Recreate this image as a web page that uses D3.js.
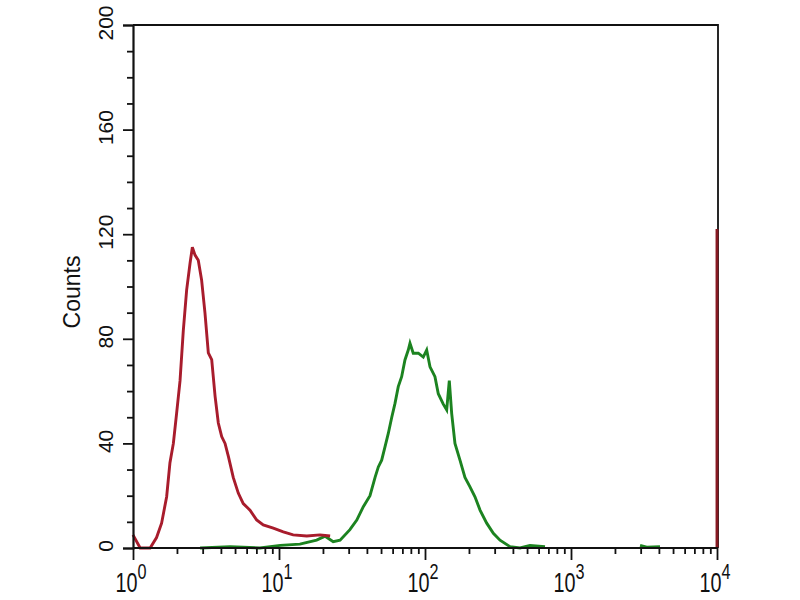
<!DOCTYPE html>
<html>
<head>
<meta charset="utf-8">
<script src="https://cdn.jsdelivr.net/npm/d3@7"></script>
<style>
  html, body { margin: 0; padding: 0; background: #ffffff; }
  svg { display: block; }
  text { font-family: "Liberation Sans", Arial, sans-serif; fill: #111; }
</style>
</head>
<body>
<svg id="chart" width="800" height="600"></svg>
<script>
// ---- data (fluorescence intensity, counts) ----
const redIntensity = [1.00, 1.12, 1.31, 1.45, 1.57, 1.70, 1.79, 1.89, 1.99, 2.10, 2.21, 2.33, 2.46, 2.55, 2.66, 2.80, 2.95, 3.11, 3.28, 3.46, 3.65, 3.84, 4.05, 4.27, 4.50, 4.86, 5.26, 5.69, 6.33, 7.03, 7.80, 9.14, 10.7, 12.5, 15.5, 19.1, 22.4];
const redCounts    = [5, 0, 0, 4, 9.5, 19.6, 32.5, 40, 51.6, 64, 83, 98.6, 109, 115, 112, 110, 102.5, 90, 74.6, 72, 58, 47.8, 42.6, 40, 35, 27, 21, 17, 14.5, 10.7, 8.8, 7.6, 6.2, 5, 4.6, 5, 4.6];
const redEdgeIntensity = [10000, 10000];
const redEdgeCounts    = [0, 122];

const greenIntensity = [2.88, 4.62, 7.41, 10.2, 13.9, 18.1, 20.7, 23.5, 26.2, 30.6, 34.1, 37.8, 42.0, 45.5, 47.9, 50.5, 53.2, 56.1, 59.2, 62.3, 65.6, 69.2, 72.9, 76.8, 78.9, 83.1, 90.0, 97.3, 102.7, 108.2, 117.0, 123.3, 133.4, 140.8, 146.7, 152.3, 160.4, 173.6, 187.8, 203.3, 219.9, 238.2, 264.6, 293.8, 326.4, 382.3, 447.7, 523.6, 663.7];
const greenCounts    = [0, 0.5, 0, 1, 1.5, 3, 4.5, 2.4, 3, 7, 10.7, 15.8, 20, 27, 31, 33.6, 38.7, 43.9, 50, 55.3, 61.7, 65.5, 71.9, 75.7, 78.3, 74.5, 74.5, 73, 75.7, 69.3, 65.5, 59, 55, 52.8, 64, 51.5, 40, 33.6, 27, 23.4, 19.6, 14.5, 9.5, 5.6, 3, 0.5, 0, 1, 0.5];
const greenTailIntensity = [2972, 3300, 4070];
const greenTailCounts    = [1, 0.3, 0.5];

const xMajorTicks = [1, 10, 100, 1000, 10000];
const xTickExponents = ["0", "1", "2", "3", "4"];
const yMajorTicks = [0, 40, 80, 120, 160, 200];
const yMinorTicks = [10, 20, 30, 50, 60, 70, 90, 100, 110, 130, 140, 150, 170, 180, 190];
const yTitle = "Counts";

// ---- layout ----
const mLeft = 133, mRight = 717, mTop = 25, mBottom = 548;
const svg = d3.select("#chart");

const x = d3.scaleLog().domain([1, 10000]).range([mLeft, mRight]);
const y = d3.scaleLinear().domain([0, 200]).range([mBottom, mTop]);

const xMinorTicks = [];
for (let e = 0; e < 4; e++) for (let m = 2; m <= 9; m++) xMinorTicks.push(m * Math.pow(10, e));

// frame (top and right)
svg.append("path")
  .attr("d", `M${mLeft},${mTop}H${mRight + 1}V${mBottom}`)
  .attr("fill", "none").attr("stroke", "#111").attr("stroke-width", 1.8);

// series
const line = d3.line().x(d => x(d[0])).y(d => y(d[1]));
function draw(xs, ys, color) {
  svg.append("path")
    .datum(xs.map((v, i) => [v, ys[i]]))
    .attr("d", line)
    .attr("fill", "none")
    .attr("stroke", color)
    .attr("stroke-width", 2.9)
    .attr("stroke-linejoin", "miter");
}
draw(greenIntensity, greenCounts, "#1c8320");
draw(greenTailIntensity, greenTailCounts, "#1c8320");
draw(redIntensity, redCounts, "#a81c2c");
draw(redEdgeIntensity, redEdgeCounts, "#861a22");

// y axis
svg.append("g").attr("transform", `translate(${mLeft},0)`)
  .call(d3.axisLeft(y).tickValues(yMajorTicks).tickSize(10).tickFormat(""));
svg.append("g").attr("transform", `translate(${mLeft},0)`)
  .call(d3.axisLeft(y).tickValues(yMinorTicks).tickSize(6).tickFormat(""))
  .call(g => g.select(".domain").remove());

yMajorTicks.forEach(v => {
  svg.append("text")
    .attr("transform", `translate(113,${y(v) - 2}) rotate(-90)`)
    .attr("text-anchor", "middle")
    .attr("font-size", 21)
    .text(v);
});

svg.append("text")
  .attr("transform", `translate(80,292) rotate(-90)`)
  .attr("text-anchor", "middle")
  .attr("font-size", 23)
  .text(yTitle);

// x axis
svg.append("g").attr("transform", `translate(0,${mBottom})`)
  .call(d3.axisBottom(x).tickValues(xMajorTicks).tickSize(12).tickFormat(""))
  .call(g => g.select(".domain").attr("d", `M${mLeft},0H${mRight + 1}`));
svg.append("g").attr("transform", `translate(0,${mBottom})`)
  .call(d3.axisBottom(x).tickValues(xMinorTicks).tickSize(6).tickFormat(""))
  .call(g => g.select(".domain").remove());

svg.selectAll("g .domain").attr("stroke", "#111").attr("stroke-width", 2.2);
svg.selectAll("g .tick line").attr("stroke", "#111").attr("stroke-width", 1.8);

xMajorTicks.forEach((v, i) => {
  const g = svg.append("g").attr("transform", `translate(${x(v) - 2},592)`);
  const t = g.append("text")
    .attr("text-anchor", "middle")
    .attr("transform", "scale(0.9,1.22)")
    .attr("font-size", 22);
  t.append("tspan").text("10");
  t.append("tspan").attr("dy", -11).attr("font-size", 18).text(xTickExponents[i]);
});
</script>
</body>
</html>
